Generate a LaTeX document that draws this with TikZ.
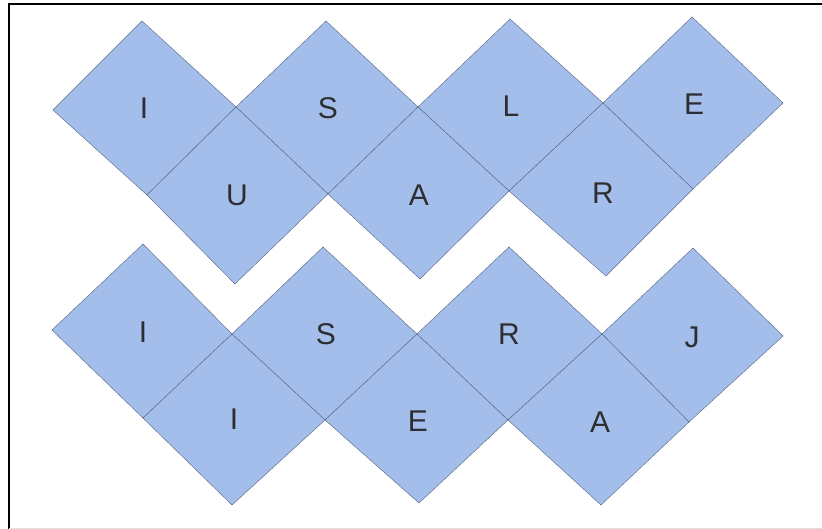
\documentclass[tikz,border=0pt]{standalone}
\usepackage{fontspec}
\setmainfont{Liberation Sans}
\definecolor{tileblue}{RGB}{164,190,236}
\definecolor{tileedge}{RGB}{95,108,135}
\definecolor{letter}{RGB}{45,45,50}
\begin{document}
\begin{tikzpicture}[x=1pt,y=-1pt,
  tile/.style={fill=tileblue,draw=tileedge,line width=0.45pt,line join=miter},
  lab/.style={text=letter,font=\fontsize{30}{30}\selectfont,inner sep=0pt,anchor=center},
  frame/.style={draw=black,line width=2pt}]
\useasboundingbox (0,0) rectangle (822,529);
\fill[white] (0,0) rectangle (822,529);
% top band
\filldraw[tile] (142,21) -- (236,107) -- (147,195) -- (53,110) -- cycle;
\filldraw[tile] (326,21) -- (418,107) -- (328,194) -- (236,107) -- cycle;
\filldraw[tile] (510,19) -- (603,103) -- (509,191) -- (418,107) -- cycle;
\filldraw[tile] (692,17) -- (783,103) -- (693,189) -- (603,103) -- cycle;
\filldraw[tile] (236,107) -- (328,194) -- (235,284) -- (147,195) -- cycle;
\filldraw[tile] (418,107) -- (509,191) -- (420,279) -- (328,194) -- cycle;
\filldraw[tile] (603,103) -- (693,189) -- (606,276) -- (509,191) -- cycle;
% bottom band
\filldraw[tile] (143,244) -- (232,334) -- (143,418) -- (52,330) -- cycle;
\filldraw[tile] (323,247) -- (417,334) -- (325,420) -- (232,334) -- cycle;
\filldraw[tile] (509,247) -- (602,334) -- (508,420) -- (417,334) -- cycle;
\filldraw[tile] (693,248) -- (783,336) -- (689,422) -- (602,334) -- cycle;
\filldraw[tile] (232,334) -- (325,420) -- (232,505) -- (143,418) -- cycle;
\filldraw[tile] (417,334) -- (508,420) -- (419,503) -- (325,420) -- cycle;
\filldraw[tile] (602,334) -- (689,422) -- (601,505) -- (508,420) -- cycle;
% letters top band
\node[lab] (t1) at (144,108) {I};
\node[lab] (t2) at (328,108) {S};
\node[lab] (t3) at (511,106) {L};
\node[lab] (t4) at (694,104) {E};
\node[lab] (t5) at (237,195) {U};
\node[lab] (t6) at (419,195) {A};
\node[lab] (t7) at (603,193) {R};
% letters bottom band
\node[lab] (b1) at (143,332) {I};
\node[lab] (b2) at (326,334) {S};
\node[lab] (b3) at (509,334) {R};
\node[lab] (b4) at (692,337) {J};
\node[lab] (b5) at (234,419) {I};
\node[lab] (b6) at (418,421) {E};
\node[lab] (b7) at (600,422) {A};
% frame
\draw[frame] (822,4.5) -- (8.7,4.5) -- (8.7,529);
\draw[draw=black!12,line width=1pt] (8.7,528) -- (822,528);
\end{tikzpicture}
\end{document}
